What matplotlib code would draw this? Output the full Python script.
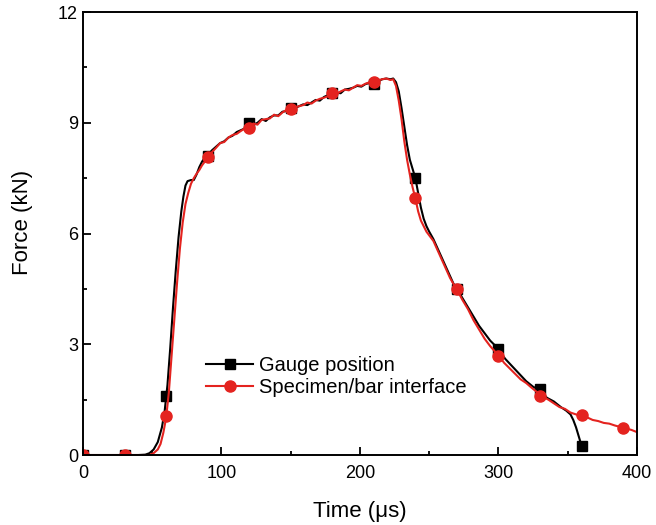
import matplotlib.pyplot as plt
from matplotlib.lines import Line2D
from matplotlib.ticker import MultipleLocator

plt.rcParams['font.family'] = ['Liberation Sans', 'DejaVu Sans']

# gauge position trace (time in us, force in kN)
t_gauge = [0, 10, 20, 30, 40, 45, 48, 51, 54, 57, 59, 61, 63, 65, 67, 69, 71, 72.5, 74, 75.5, 78, 80,
           82, 84, 86, 88, 90, 93, 96, 99, 102, 105, 108, 111, 114, 117, 120, 123, 126, 129, 132, 135,
           138, 141, 144, 147, 150, 153, 156, 159, 162, 165, 168, 171, 174, 177, 180, 183, 186, 189,
           192, 195, 198, 201, 204, 207, 210, 213, 216, 219, 222, 224, 226, 228, 230, 232, 234, 236,
           238, 240, 242, 244, 246, 248, 250, 253, 256, 259, 262, 265, 268, 270, 274, 278, 282, 286,
           290, 294, 298, 300, 305, 310, 315, 320, 325, 330, 335, 340, 345, 349, 352, 354, 356, 358, 360]
f_gauge = [0, 0, 0, 0, 0, 0.01, 0.05, 0.15, 0.35, 0.75, 1.2, 1.9, 2.9, 4.0, 5.0, 5.9, 6.6, 7.0, 7.3, 7.42,
           7.45, 7.45, 7.6, 7.8, 7.95, 8.05, 8.1, 8.25, 8.35, 8.45, 8.5, 8.6, 8.65, 8.75, 8.8, 8.85, 8.98,
           8.95, 9.0, 9.1, 9.05, 9.15, 9.2, 9.2, 9.3, 9.32, 9.38, 9.4, 9.45, 9.5, 9.48, 9.55, 9.62, 9.6,
           9.7, 9.75, 9.78, 9.82, 9.8, 9.9, 9.92, 9.95, 10.0, 9.98, 10.05, 10.08, 10.05, 10.12, 10.18,
           10.2, 10.18, 10.2, 10.1, 9.85, 9.4, 8.9, 8.4, 8.0, 7.75, 7.5, 7.1, 6.7, 6.4, 6.2, 6.05, 5.85,
           5.6, 5.35, 5.1, 4.85, 4.6, 4.5, 4.25, 4.0, 3.75, 3.5, 3.3, 3.1, 2.95, 2.85, 2.6, 2.4, 2.2,
           2.0, 1.85, 1.75, 1.55, 1.45, 1.3, 1.2, 1.1, 0.95, 0.75, 0.5, 0.25]

# specimen/bar interface trace
t_iface = [0, 10, 20, 30, 40, 48, 51, 54, 56, 58, 60, 62, 64, 66, 68, 70, 72, 74, 76, 78, 80, 82, 84, 86, 88,
           90, 93, 96, 99, 102, 105, 108, 111, 114, 117, 120, 123, 126, 129, 132, 135, 138, 141, 144,
           147, 150, 153, 156, 159, 162, 165, 168, 171, 174, 177, 180, 183, 186, 189, 192, 195, 198,
           201, 204, 207, 210, 213, 216, 219, 222, 224, 226, 228, 230, 232, 234, 236, 238, 240, 242,
           244, 246, 248, 250, 253, 256, 259, 262, 265, 268, 270, 274, 278, 282, 286, 290, 294, 298,
           300, 304, 308, 312, 316, 320, 324, 328, 332, 336, 340, 344, 348, 352, 356, 360, 364, 368,
           372, 376, 380, 384, 388, 392, 396, 400]
f_iface = [0, 0, 0, 0, 0, 0, 0.05, 0.15, 0.3, 0.6, 1.0, 1.7, 2.7, 3.7, 4.7, 5.6, 6.3, 6.8, 7.1, 7.35, 7.5,
           7.62, 7.72, 7.85, 7.95, 8.05, 8.2, 8.32, 8.45, 8.48, 8.6, 8.67, 8.7, 8.78, 8.85, 8.88, 8.98,
           8.95, 9.08, 9.1, 9.12, 9.22, 9.18, 9.28, 9.35, 9.33, 9.42, 9.45, 9.48, 9.55, 9.52, 9.6, 9.65,
           9.68, 9.72, 9.8, 9.78, 9.85, 9.9, 9.88, 9.95, 10.02, 10.0, 10.06, 10.1, 10.08, 10.15, 10.18,
           10.2, 10.16, 10.18, 10.0, 9.6, 9.1, 8.5, 8.0, 7.6, 7.25, 6.95, 6.6, 6.35, 6.2, 6.05, 5.95,
           5.8, 5.55, 5.3, 5.05, 4.8, 4.6, 4.48, 4.2, 3.95, 3.65, 3.4, 3.15, 2.95, 2.78, 2.7, 2.5, 2.35,
           2.2, 2.05, 1.95, 1.82, 1.7, 1.58, 1.5, 1.4, 1.3, 1.25, 1.15, 1.1, 1.05, 1.02, 0.95, 0.92,
           0.87, 0.85, 0.8, 0.76, 0.72, 0.68, 0.62]

# marker symbols every 30 us
t_gauge_mk = [0, 30, 60, 90, 120, 150, 180, 210, 240, 270, 300, 330, 360]
f_gauge_mk = [0, 0, 1.6, 8.1, 9.0, 9.4, 9.8, 10.05, 7.5, 4.5, 2.88, 1.78, 0.24]
t_iface_mk = [0, 30, 60, 90, 120, 150, 180, 210, 240, 270, 300, 330, 360, 390]
f_iface_mk = [0, 0, 1.06, 8.07, 8.86, 9.37, 9.8, 10.1, 6.96, 4.5, 2.67, 1.6, 1.08, 0.73]

red = '#e4231f'

fig = plt.figure(figsize=(6.56, 5.25), dpi=100)
ax = fig.add_axes([0.1265, 0.1333, 0.8445, 0.8437])

ax.plot(t_gauge, f_gauge, color='black', lw=1.5)
ax.plot(t_gauge_mk, f_gauge_mk, ls='none', marker='s', ms=6.5, color='black')
ax.plot(t_iface, f_iface, color=red, lw=1.5)
ax.plot(t_iface_mk, f_iface_mk, ls='none', marker='o', ms=8, color=red)

ax.set_xlim(0, 400)
ax.set_ylim(0, 12)
ax.xaxis.set_major_locator(MultipleLocator(100))
ax.xaxis.set_minor_locator(MultipleLocator(50))
ax.yaxis.set_major_locator(MultipleLocator(3))
ax.yaxis.set_minor_locator(MultipleLocator(1.5))
ax.tick_params(which='both', direction='in', width=1.3, labelsize=13, colors='black')
ax.tick_params(which='major', length=6)
ax.tick_params(which='minor', length=3)
ax.tick_params(axis='x', pad=7)
for s in ax.spines.values():
    s.set_linewidth(1.4)

ax.set_xlabel('Time (\u03bcs)', fontsize=16, labelpad=14)
ax.set_ylabel('Force (kN)', fontsize=16)
ax.yaxis.set_label_coords(-0.09, 0.526)

handles = [Line2D([], [], color='black', lw=1.5, marker='s', ms=6.5),
           Line2D([], [], color=red, lw=1.5, marker='o', ms=8)]
ax.legend(handles, ['Gauge position', 'Specimen/bar interface'], loc='lower left',
          bbox_to_anchor=(0.19, 0.09), frameon=False, fontsize=14.5, handlelength=2.3,
          handletextpad=0.3, labelspacing=0.15)

fig.savefig('out.png', dpi=100)
